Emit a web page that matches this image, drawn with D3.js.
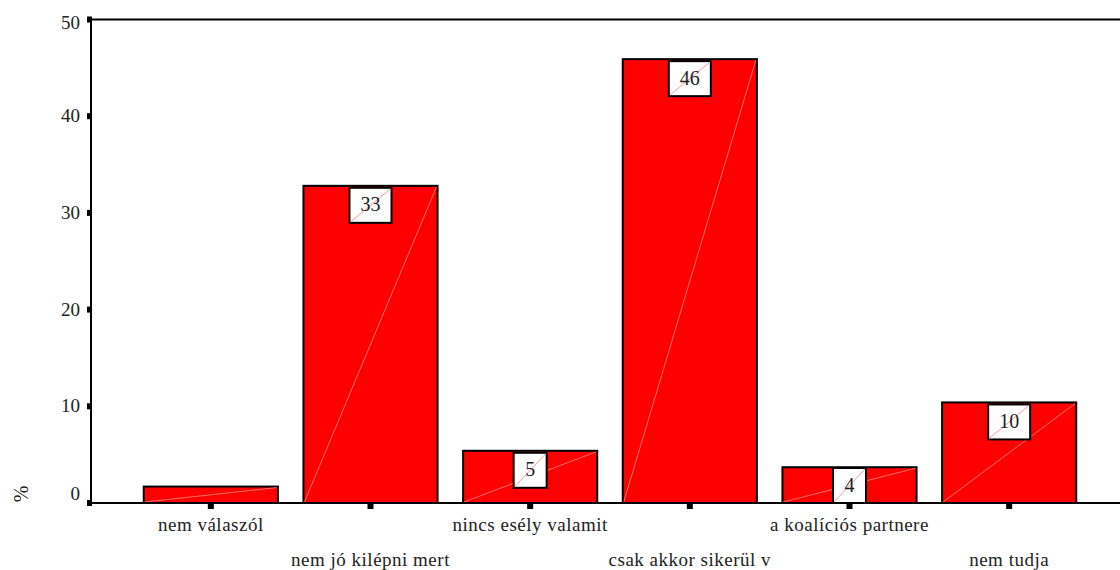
<!DOCTYPE html>
<html><head><meta charset="utf-8">
<script src="https://cdn.jsdelivr.net/npm/d3@7"></script>
<style>body{margin:0;background:#fff}svg{display:block}</style>
</head><body><svg id="c" width="1120" height="570"></svg>
<script>
const categories = ["nem válaszól","nem jó kilépni mert","nincs esély valamit","csak akkor sikerül v","a koalíciós partnere","nem tudja"];
const values = [1.7, 32.8, 5.4, 45.9, 3.7, 10.4];
const barLabels = ["", "33", "5", "46", "4", "10"];
const yTicks = [0, 10, 20, 30, 40, 50];
const yTitle = "%";

const svg = d3.select("#c");
const FONT = "Liberation Serif";
const y = d3.scaleLinear().domain([0, 50]).range([503, 19.5]);
const x = d3.scaleBand().domain(categories).range([131, 1089]).paddingInner(0.16).paddingOuter(0.08);

svg.append("line").attr("x1", 91).attr("x2", 1120).attr("y1", y(50)).attr("y2", y(50)).attr("stroke", "#000").attr("stroke-width", 2);

const g = svg.append("g");
categories.forEach((c, i) => {
  const x0 = x(c), w = x.bandwidth(), yt = y(values[i]), y0 = y(0);
  g.append("rect").attr("x", x0).attr("y", yt).attr("width", w).attr("height", y0 - yt)
    .attr("fill", "#ff0000").attr("stroke", "#000").attr("stroke-width", 2);
  g.append("line").attr("x1", x0 + 1).attr("y1", y0 - 1).attr("x2", x0 + w - 1).attr("y2", yt + 1)
    .attr("stroke", "#fff").attr("stroke-opacity", 0.55).attr("stroke-width", 0.8);
});

svg.append("line").attr("x1", 91).attr("x2", 91).attr("y1", y(50) - 1).attr("y2", y(0) + 1).attr("stroke", "#000").attr("stroke-width", 2);
svg.append("line").attr("x1", 88).attr("x2", 1120).attr("y1", y(0)).attr("y2", y(0)).attr("stroke", "#000").attr("stroke-width", 2);

function txt(sel) { return sel.style("font-family", FONT).attr("fill", "#222"); }

yTicks.forEach(t => {
  svg.append("rect").attr("x", 87).attr("y", y(t) - 3).attr("width", 5).attr("height", 6).attr("fill", "#000");
  const dy = t === 0 ? -3 : (t === 50 ? 9 : 6);
  txt(svg.append("text")).attr("x", 80).attr("y", y(t) + dy).attr("text-anchor", "end").attr("font-size", 19).text(t);
});

categories.forEach((c, i) => {
  const cx = x(c) + x.bandwidth() / 2;
  svg.append("rect").attr("x", cx - 3).attr("y", y(0) + 1).attr("width", 6).attr("height", 5).attr("fill", "#000");
  txt(svg.append("text")).attr("x", cx).attr("y", i % 2 === 0 ? 531 : 566).attr("text-anchor", "middle")
    .attr("font-size", 19).attr("letter-spacing", 0.5).text(c);
});

categories.forEach((c, i) => {
  if (!barLabels[i]) return;
  const cx = x(c) + x.bandwidth() / 2;
  const bw = barLabels[i].length > 1 ? 42 : 33, bh = 35;
  const by = Math.min(y(values[i]) + 2, y(0) - bh);
  svg.append("rect").attr("x", cx - bw / 2).attr("y", by).attr("width", bw).attr("height", bh)
    .attr("fill", "#fff").attr("stroke", "#000").attr("stroke-width", 2);
  svg.append("line").attr("x1", cx - bw / 2 + 1).attr("y1", by + bh - 1).attr("x2", cx + bw / 2 - 1).attr("y2", by + 1)
    .attr("stroke", "#ff8080").attr("stroke-width", 0.8);
  txt(svg.append("text")).attr("x", cx).attr("y", by + bh / 2 + 6).attr("text-anchor", "middle").attr("font-size", 20).text(barLabels[i]);
});

txt(svg.append("text")).attr("transform", "translate(28,494) rotate(-90)").attr("text-anchor", "middle").attr("font-size", 20).text(yTitle);
</script></body></html>
